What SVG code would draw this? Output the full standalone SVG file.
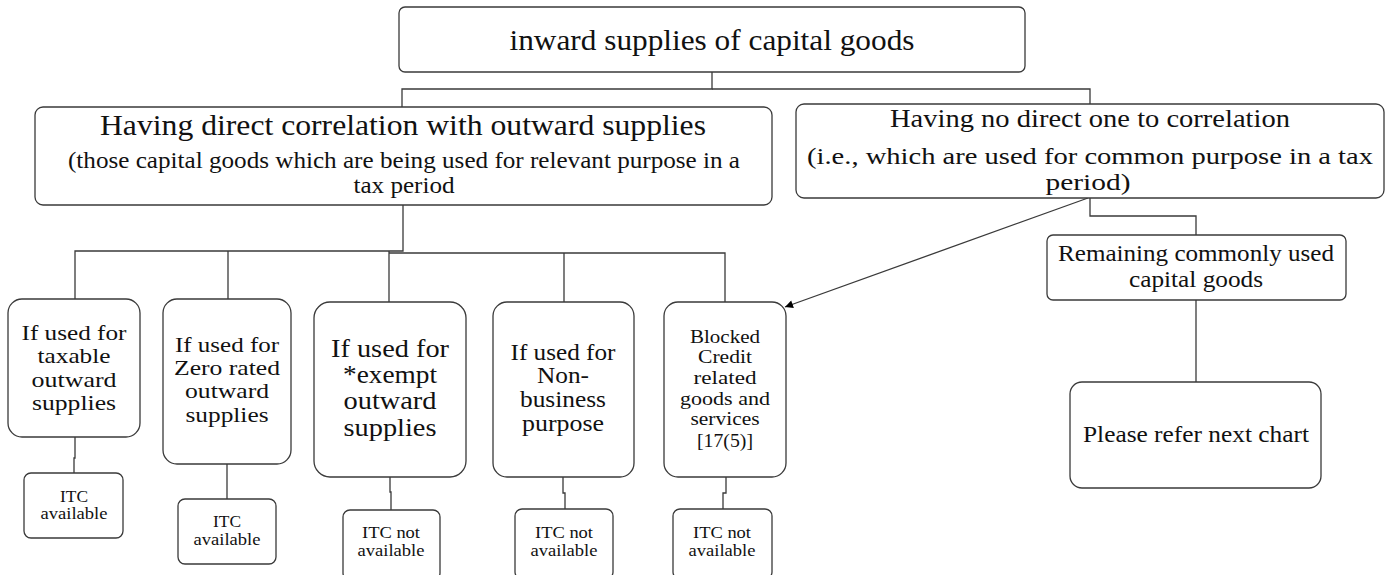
<svg xmlns="http://www.w3.org/2000/svg" width="1391" height="575" viewBox="0 0 1391 575">
<defs>
<marker id="arr" viewBox="0 0 10 10" refX="10" refY="5" markerWidth="9" markerHeight="8" orient="auto" markerUnits="userSpaceOnUse">
<path d="M0,0 L10,5 L0,10 z" fill="#000"/>
</marker>
</defs>
<style>
.box{fill:#fff;stroke:#3a3a3a;stroke-width:1.3}
.ln{fill:none;stroke:#3a3a3a;stroke-width:1.3}
</style>
<rect width="1391" height="575" fill="#fff"/>
<g id="connectors">
<polyline class="ln" points="712,72 712,89 402,89 402,108"/>
<polyline class="ln" points="712,89 1090,89 1090,104"/>
<polyline class="ln" points="403,205 403,251 75,251 75,300"/>
<polyline class="ln" points="228,251 228,300"/>
<polyline class="ln" points="389,253 725,253 725,302"/>
<polyline class="ln" points="389,251 389,302"/>
<polyline class="ln" points="564,253 564,302"/>
<polyline class="ln" points="75,437 75,458 74,458 74,473"/>
<polyline class="ln" points="227,464 227,499"/>
<polyline class="ln" points="390,477 390,492 391,492 391,510"/>
<polyline class="ln" points="563,477 563,493 565,493 565,509"/>
<polyline class="ln" points="726,477 726,493 723,493 723,509"/>
<polyline class="ln" points="1090,198 1090,216 1196,216 1196,235"/>
<polyline class="ln" points="1196,300 1196,382"/>
<line class="ln" x1="1088" y1="198" x2="785" y2="307" marker-end="url(#arr)"/>
</g>
<g font-family="'Liberation Serif', 'Times New Roman', serif" fill="#111" text-anchor="middle">
<g id="n-top">
<rect class="box" x="399" y="7" width="626" height="65" rx="6"/>
<text x="712" y="50" font-size="29" textLength="405" lengthAdjust="spacingAndGlyphs">inward supplies of capital goods</text>
</g>
<g id="n-direct">
<rect class="box" x="35" y="107" width="737" height="98" rx="8"/>
<text x="403" y="135" font-size="29" textLength="606" lengthAdjust="spacingAndGlyphs">Having direct correlation with outward supplies</text>
<text x="404" y="168" font-size="22.5" textLength="672" lengthAdjust="spacingAndGlyphs">(those capital goods which are being used for relevant purpose in a</text>
<text x="404" y="193" font-size="22.5" textLength="101" lengthAdjust="spacingAndGlyphs">tax period</text>
</g>
<g id="n-nodirect">
<rect class="box" x="796" y="104" width="588" height="94" rx="8"/>
<text x="1090" y="127" font-size="26" textLength="400" lengthAdjust="spacingAndGlyphs">Having no direct one to correlation</text>
<text x="1090" y="164" font-size="24" textLength="566" lengthAdjust="spacingAndGlyphs">(i.e., which are used for common purpose in a tax</text>
<text x="1088" y="190" font-size="24" textLength="85" lengthAdjust="spacingAndGlyphs">period)</text>
</g>
<g id="n-remaining">
<rect class="box" x="1047" y="235" width="299" height="65" rx="6"/>
<text x="1196" y="261" font-size="23" textLength="276" lengthAdjust="spacingAndGlyphs">Remaining commonly used</text>
<text x="1196" y="287" font-size="23" textLength="134" lengthAdjust="spacingAndGlyphs">capital goods</text>
</g>
<g id="n-refer">
<rect class="box" x="1070" y="382" width="251" height="106" rx="12"/>
<text x="1196" y="442" font-size="24" textLength="226" lengthAdjust="spacingAndGlyphs">Please refer next chart</text>
</g>
<g id="n-taxable" font-size="22">
<rect class="box" x="8" y="299" width="132" height="138" rx="14"/>
<text x="74" y="340" textLength="105" lengthAdjust="spacingAndGlyphs">If used for</text>
<text x="74" y="363" textLength="73" lengthAdjust="spacingAndGlyphs">taxable</text>
<text x="74" y="387" textLength="85" lengthAdjust="spacingAndGlyphs">outward</text>
<text x="74" y="410" textLength="84" lengthAdjust="spacingAndGlyphs">supplies</text>
</g>
<g id="n-zero" font-size="22">
<rect class="box" x="163" y="299" width="128" height="165" rx="14"/>
<text x="227" y="352" textLength="104" lengthAdjust="spacingAndGlyphs">If used for</text>
<text x="227" y="375" textLength="106" lengthAdjust="spacingAndGlyphs">Zero rated</text>
<text x="227" y="398" textLength="84" lengthAdjust="spacingAndGlyphs">outward</text>
<text x="227" y="422" textLength="83" lengthAdjust="spacingAndGlyphs">supplies</text>
</g>
<g id="n-exempt" font-size="25">
<rect class="box" x="314" y="302" width="152" height="175" rx="16"/>
<text x="390" y="357" textLength="118" lengthAdjust="spacingAndGlyphs">If used for</text>
<text x="390" y="383" textLength="94" lengthAdjust="spacingAndGlyphs">*exempt</text>
<text x="390" y="409" textLength="93" lengthAdjust="spacingAndGlyphs">outward</text>
<text x="390" y="436" textLength="93" lengthAdjust="spacingAndGlyphs">supplies</text>
</g>
<g id="n-nonbiz" font-size="23">
<rect class="box" x="493" y="302" width="141" height="175" rx="14"/>
<text x="563" y="360" textLength="105" lengthAdjust="spacingAndGlyphs">If used for</text>
<text x="563" y="383" textLength="52" lengthAdjust="spacingAndGlyphs">Non-</text>
<text x="563" y="407" textLength="86" lengthAdjust="spacingAndGlyphs">business</text>
<text x="563" y="431" textLength="82" lengthAdjust="spacingAndGlyphs">purpose</text>
</g>
<g id="n-blocked" font-size="19.5">
<rect class="box" x="664" y="302" width="122" height="175" rx="14"/>
<text x="725" y="343" textLength="70" lengthAdjust="spacingAndGlyphs">Blocked</text>
<text x="725" y="363" textLength="54" lengthAdjust="spacingAndGlyphs">Credit</text>
<text x="725" y="384" textLength="63" lengthAdjust="spacingAndGlyphs">related</text>
<text x="725" y="405" textLength="90" lengthAdjust="spacingAndGlyphs">goods and</text>
<text x="725" y="425" textLength="69" lengthAdjust="spacingAndGlyphs">services</text>
<text x="725" y="447" textLength="56" lengthAdjust="spacingAndGlyphs">[17(5)]</text>
</g>
<g font-size="17">
<g id="n-itc1">
<rect class="box" x="24" y="473" width="99" height="65" rx="7"/>
<text x="74" y="502" textLength="28" lengthAdjust="spacingAndGlyphs">ITC</text>
<text x="74" y="519" textLength="67" lengthAdjust="spacingAndGlyphs">available</text>
</g>
<g id="n-itc2">
<rect class="box" x="178" y="499" width="98" height="65" rx="7"/>
<text x="227" y="527" textLength="28" lengthAdjust="spacingAndGlyphs">ITC</text>
<text x="227" y="545" textLength="67" lengthAdjust="spacingAndGlyphs">available</text>
</g>
<g id="n-itc3">
<rect class="box" x="343" y="510" width="97" height="70" rx="7"/>
<text x="391" y="538" textLength="58" lengthAdjust="spacingAndGlyphs">ITC not</text>
<text x="391" y="556" textLength="67" lengthAdjust="spacingAndGlyphs">available</text>
</g>
<g id="n-itc4">
<rect class="box" x="515" y="509" width="98" height="70" rx="7"/>
<text x="564" y="538" textLength="58" lengthAdjust="spacingAndGlyphs">ITC not</text>
<text x="564" y="556" textLength="67" lengthAdjust="spacingAndGlyphs">available</text>
</g>
<g id="n-itc5">
<rect class="box" x="673" y="509" width="99" height="70" rx="7"/>
<text x="722" y="538" textLength="58" lengthAdjust="spacingAndGlyphs">ITC not</text>
<text x="722" y="556" textLength="67" lengthAdjust="spacingAndGlyphs">available</text>
</g>
</g>
</g>
</svg>
